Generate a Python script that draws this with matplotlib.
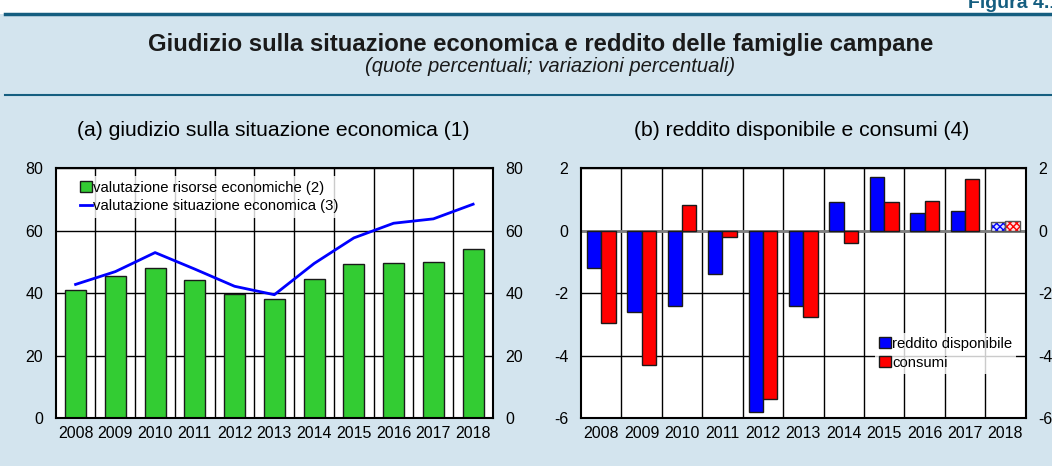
import matplotlib
matplotlib.use("Agg")
import matplotlib.pyplot as plt
import numpy as np
from matplotlib.lines import Line2D
from matplotlib.patches import Patch

plt.rcParams['font.family'] = ['Liberation Sans', 'DejaVu Sans']
plt.rcParams['axes.unicode_minus'] = False

years = ['2008', '2009', '2010', '2011', '2012', '2013', '2014', '2015', '2016', '2017', '2018']
risorse = [40.9, 45.5, 47.9, 44.2, 39.7, 38.0, 44.6, 49.3, 49.6, 50.0, 54.1]
situazione = [42.8, 46.9, 53.0, 47.7, 42.2, 39.5, 49.5, 57.7, 62.4, 63.8, 68.5]
reddito = [-1.2, -2.6, -2.4, -1.4, -5.82, -2.4, 0.91, 1.72, 0.58, 0.62, 0.27]
consumi = [-2.97, -4.3, 0.83, -0.21, -5.4, -2.78, -0.39, 0.91, 0.95, 1.65, 0.31]

W, H = 1052, 466
fig = plt.figure(figsize=(W / 100, H / 100), dpi=100)
BG = '#d3e4ee'
TEAL = '#155e80'
fig.patch.set_facecolor('white')

def px(x0, y0, x1, y1):
    return [x0 / W, 1 - y1 / H, (x1 - x0) / W, (y1 - y0) / H]

# background panel
bgax = fig.add_axes([0, 0, 1, 1 - 14 / H], zorder=-10)
bgax.set_facecolor(BG)
bgax.set_xticks([]); bgax.set_yticks([])
for s in bgax.spines.values():
    s.set_visible(False)
fig.add_artist(Line2D([5 / W, 1], [1 - 14 / H] * 2, color=TEAL, lw=2.5))
fig.add_artist(Line2D([5 / W, 1], [1 - 95 / H] * 2, color=TEAL, lw=1.5))
fig.text(968 / W, 1 - 8 / H, 'Figura 4.1', color=TEAL, fontsize=14, fontweight='bold',
         ha='left', va='baseline')
fig.text(541 / W, 1 - 45 / H, 'Giudizio sulla situazione economica e reddito delle famiglie campane',
         ha='center', va='center', fontsize=17.2, fontweight='bold', color='#1a1a1a')
fig.text(550 / W, 1 - 67 / H, '(quote percentuali; variazioni percentuali)',
         ha='center', va='center', fontsize=14.6, style='italic', color='#1a1a1a')

x = np.arange(len(years))
TS = 11.5

def style_axes(ax, ylim, yticks):
    ax.set_xlim(-0.5, len(years) - 0.5)
    ax.set_ylim(*ylim)
    ax.set_yticks(yticks)
    ax.set_xticks(x)
    ax.set_xticklabels(years)
    ax.tick_params(axis='both', length=0, labelsize=TS)
    ax.tick_params(axis='y', pad=9)
    ax.tick_params(axis='x', pad=6)
    for s in ax.spines.values():
        s.set_linewidth(1.5)
        s.set_color('black')
    for b in np.arange(0.5, len(years) - 0.5, 1):
        ax.axvline(b, color='black', lw=1.0, zorder=0.5)
    for t in yticks:
        ax.axhline(t, color='black', lw=1.0, zorder=0.5)
    tw = ax.twinx()
    tw.set_ylim(*ylim)
    tw.set_yticks(yticks)
    tw.tick_params(axis='y', length=0, labelsize=TS, pad=9)
    for s in tw.spines.values():
        s.set_visible(False)
    return tw

# left panel
ax1 = fig.add_axes(px(55.7, 168.3, 493, 418))
ax1.set_facecolor('white')
style_axes(ax1, (0, 80), [0, 20, 40, 60, 80])
ax1.bar(x, risorse, width=0.53, color='#33cc33', edgecolor='#1a1a1a', lw=1.0, zorder=2)
ax1.plot(x, situazione, color='#0000ff', lw=2.0, zorder=3)
h1 = [Patch(facecolor='#33cc33', edgecolor='#1a1a1a', lw=1.0),
      Line2D([], [], color='#0000ff', lw=2.0)]
leg1 = ax1.legend(h1, ['valutazione risorse economiche (2)', 'valutazione situazione economica (3)'],
                  loc='upper left', bbox_to_anchor=(0.045, 0.968), frameon=True, fontsize=10.7,
                  handlelength=0.8, handleheight=0.8, handletextpad=0.1, labelspacing=0.3,
                  borderaxespad=0.0, borderpad=0.3, fancybox=False)
leg1.get_frame().set_facecolor('white')
leg1.get_frame().set_linewidth(0)
leg1.set_zorder(5)
fig.text(273 / W, 1 - 131 / H, '(a) giudizio sulla situazione economica (1)',
         ha='center', va='center', fontsize=15.2)

# right panel
ax2 = fig.add_axes(px(581, 168.3, 1025.7, 418))
ax2.set_facecolor('white')
style_axes(ax2, (-6, 2), [-6, -4, -2, 0, 2])
ax2.axhline(0, color='#7f7f7f', lw=2.0, zorder=0.6)
bw = 0.355
ax2.bar(x[:-1] - bw / 2, reddito[:-1], width=bw, color='#0000ff', edgecolor='#1a1a1a', lw=1.0, zorder=2)
ax2.bar(x[:-1] + bw / 2, consumi[:-1], width=bw, color='#ff0000', edgecolor='#1a1a1a', lw=1.0, zorder=2)
# estimates 2018 (hatched)
ax2.bar(x[-1:] - bw / 2, reddito[-1:], width=bw, color='#dde0ff', edgecolor='#0000ff', hatch='xxxxx', lw=0, zorder=2)
ax2.bar(x[-1:] + bw / 2, consumi[-1:], width=bw, color='#ffe0e0', edgecolor='#ff0000', hatch='xxxxx', lw=0, zorder=2)
ax2.bar(x[-1:] - bw / 2, reddito[-1:], width=bw, fill=False, edgecolor='#555555', lw=1.0, zorder=2.1)
ax2.bar(x[-1:] + bw / 2, consumi[-1:], width=bw, fill=False, edgecolor='#555555', lw=1.0, zorder=2.1)
h2 = [Patch(facecolor='#0000ff', edgecolor='#1a1a1a', lw=1.0),
      Patch(facecolor='#ff0000', edgecolor='#1a1a1a', lw=1.0)]
leg2 = ax2.legend(h2, ['reddito disponibile', 'consumi'], loc='upper left',
                  bbox_to_anchor=((875 - 581) / 444.7, (418 - 333) / 249.7), frameon=True,
                  fontsize=10.7, handlelength=0.8, handleheight=0.8, handletextpad=0.1,
                  labelspacing=0.35, borderaxespad=0.0, borderpad=0.25, fancybox=False)
leg2.get_frame().set_facecolor('white')
leg2.get_frame().set_linewidth(0)
leg2.set_zorder(5)
fig.text(802 / W, 1 - 131 / H, '(b) reddito disponibile e consumi (4)',
         ha='center', va='center', fontsize=15.2)

fig.savefig('out.png', dpi=100, facecolor=fig.get_facecolor())
